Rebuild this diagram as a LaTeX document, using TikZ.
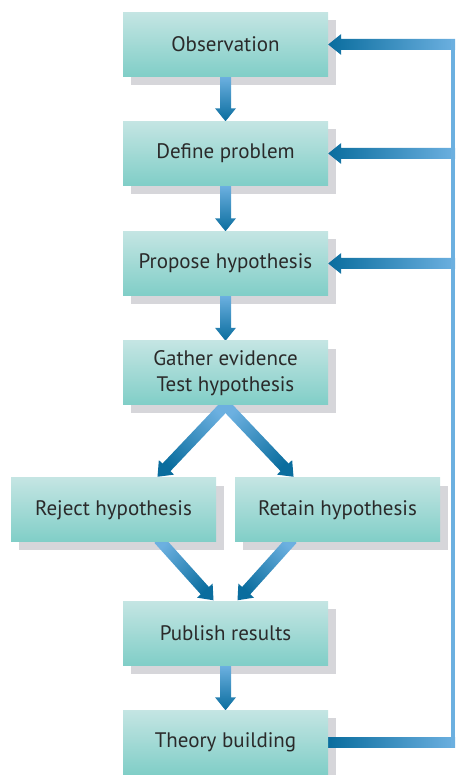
\documentclass[tikz,border=0pt]{standalone}
\usepackage{fontspec}
\setmainfont{PT Sans}
\usepackage{tikz}
\usetikzlibrary{calc,positioning}

\definecolor{boxtop}{HTML}{C4E5E3}
\definecolor{boxbottom}{HTML}{80CEC7}
\definecolor{boxshadow}{HTML}{D6D6DA}
\definecolor{textgrey}{HTML}{2A2A2A}
\definecolor{arrowdark}{HTML}{0A6D9E}
\definecolor{arrowlight}{HTML}{6CB0E0}

\pgfdeclarelayer{shadowlayer}
\pgfdeclarelayer{arrowlayer}
\pgfsetlayers{shadowlayer,arrowlayer,main}

\tikzset{box/.style={rectangle,top color=boxtop,bottom color=boxbottom,
    minimum width=205pt,minimum height=64pt,inner sep=0pt,
    text=textgrey,font=\fontsize{21}{26.5}\selectfont,align=center},
  busline/.style={line width=4pt,arrowlight}}

\newcommand\fatarrow[3][0]{%
  \coordinate (fa-c) at ($(#3)!13pt!(#2)$);
  \shade[top color=arrowlight,bottom color=arrowdark,shading angle=#1]
    ($(#2)!5.5pt!90:(#3)$) -- ($(fa-c)!5.5pt!90:(#3)$) -- ($(fa-c)!10.5pt!90:(#3)$)
    -- (#3) -- ($(fa-c)!10.5pt!-90:(#3)$) -- ($(fa-c)!5.5pt!-90:(#3)$)
    -- ($(#2)!5.5pt!-90:(#3)$) -- cycle;}

\begin{document}
\begin{tikzpicture}[x=1pt,y=1pt]
\useasboundingbox (0,0) rectangle (456,775);
\node (obs) at (225.5,730.5) [box] {Observation};
\node (def) at (225.5,621.5) [box] {Define problem};
\node (prop) at (225.5,511.5) [box] {Propose hypothesis};
\node (gath) at (225.5,402) [box] {Gather evidence\\Test hypothesis};
\node (rej) at (113.5,265) [box] {Reject hypothesis};
\node (ret) at (337.5,265) [box] {Retain hypothesis};
\node (pub) at (225.5,141.5) [box] {Publish results};
\node (the) at (225.5,32.5) [box] {Theory building};

\coordinate (bus) at (455,0);
\coordinate (b1) at (bus |- obs.east);
\coordinate (b2) at (bus |- def.east);
\coordinate (b3) at (bus |- prop.east);
\coordinate (b7) at (bus |- the.east);
\coordinate (rejin) at ([xshift=44pt,yshift=1pt]rej.north);
\coordinate (retin) at ([xshift=-44pt,yshift=1pt]ret.north);
\coordinate (rejout) at ([xshift=45pt,yshift=3pt]rej.south);
\coordinate (retout) at ([xshift=-45pt,yshift=3pt]ret.south);
\coordinate (pubinl) at ([xshift=-12pt,yshift=1pt]pub.north);
\coordinate (pubinr) at ([xshift=12pt,yshift=1pt]pub.north);

\begin{pgfonlayer}{shadowlayer}
\foreach \n in {obs,def,prop,gath,rej,ret,pub,the}
  \fill[boxshadow] ([shift={(8pt,-8pt)}]\n.south west) rectangle ([shift={(8pt,-8pt)}]\n.north east);
\end{pgfonlayer}

\begin{pgfonlayer}{arrowlayer}
\fatarrow{obs.south}{def.north}
\fatarrow{def.south}{prop.north}
\fatarrow{prop.south}{gath.north}
\fatarrow[-45]{gath.south}{rejin}
\fatarrow[45]{gath.south}{retin}
\fatarrow[45]{rejout}{pubinl}
\fatarrow[-45]{retout}{pubinr}
\fatarrow{pub.south}{the.north}
\fatarrow[270]{b1}{obs.east}
\fatarrow[270]{b2}{def.east}
\fatarrow[270]{b3}{prop.east}
\shade[left color=arrowdark,right color=arrowlight] ([yshift=-5pt]the.east) rectangle ([yshift=5pt]b7);
\draw[busline] ([shift={(-2pt,5.5pt)}]b1) -- ([shift={(-2pt,-5pt)}]b7);
\end{pgfonlayer}
\end{tikzpicture}
\end{document}
